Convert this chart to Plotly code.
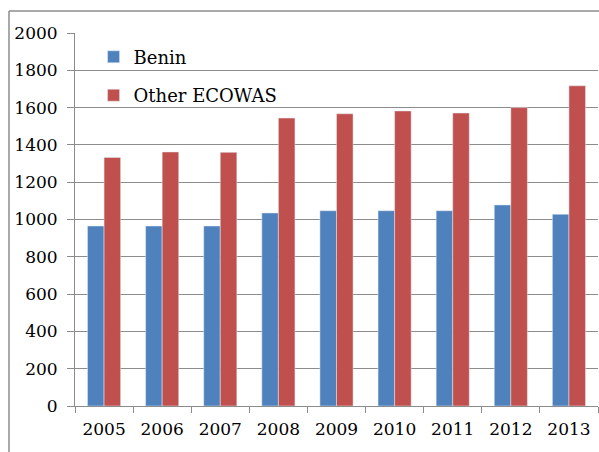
import plotly.graph_objects as go

years = ["2005", "2006", "2007", "2008", "2009", "2010", "2011", "2012", "2013"]
benin = [965, 965, 965, 1035, 1047, 1047, 1047, 1078, 1028]
other_ecowas = [1333, 1362, 1360, 1544, 1567, 1582, 1571, 1600, 1717]
y_ticks = [0, 200, 400, 600, 800, 1000, 1200, 1400, 1600, 1800, 2000]

FONT = "DejaVu Serif"

fig = go.Figure()
fig.add_trace(go.Bar(x=years, y=benin, name="Benin", marker_color="#4F81BD",
                     legendgroup="a"))
fig.add_trace(go.Bar(x=years, y=other_ecowas, name="Other ECOWAS", marker_color="#C0504D",
                     legendgroup="b"))

fig.update_layout(
    width=599, height=452,
    margin=dict(l=75, r=1, t=33, b=46),
    paper_bgcolor="white", plot_bgcolor="white",
    barmode="group", bargap=0.43, bargroupgap=0,
    font=dict(family=FONT, size=17, color="black"),
    showlegend=True,
    legend=dict(x=0.0355, y=0.985, xanchor="left", yanchor="top",
                bgcolor="rgba(0,0,0,0)", font=dict(family=FONT, size=18),
                tracegroupgap=12, traceorder="grouped"),
    xaxis=dict(type="category", showgrid=False, showline=True, linecolor="#8c8c8c",
               linewidth=1, ticks="outside", ticklen=6, tickcolor="#8c8c8c",
               tickson="boundaries", ticklabelstandoff=8,
               tickfont=dict(family=FONT, size=17)),
    yaxis=dict(range=[0, 2000], tickvals=y_ticks, showgrid=True, gridcolor="#8c8c8c",
               gridwidth=1, showline=True, linecolor="#8c8c8c", linewidth=1,
               ticks="outside", ticklen=7, tickcolor="#8c8c8c",
               ticklabelstandoff=6, zeroline=False,
               tickfont=dict(family=FONT, size=17)),
    shapes=[
        dict(type="line", xref="paper", yref="paper",
             x0=-0.1262, x1=-0.1262, y0=-0.5, y1=1.059,
             line=dict(color="#8c8c8c", width=1.5), layer="below"),
        dict(type="line", xref="paper", yref="paper",
             x0=-0.1262, x1=1.05, y0=1.059, y1=1.059,
             line=dict(color="#8c8c8c", width=1.5), layer="below"),
    ],
)

fig.write_html("out.html", config={"displayModeBar": False},
               post_script="document.body.style.margin='0px';document.body.style.overflow='hidden';")
